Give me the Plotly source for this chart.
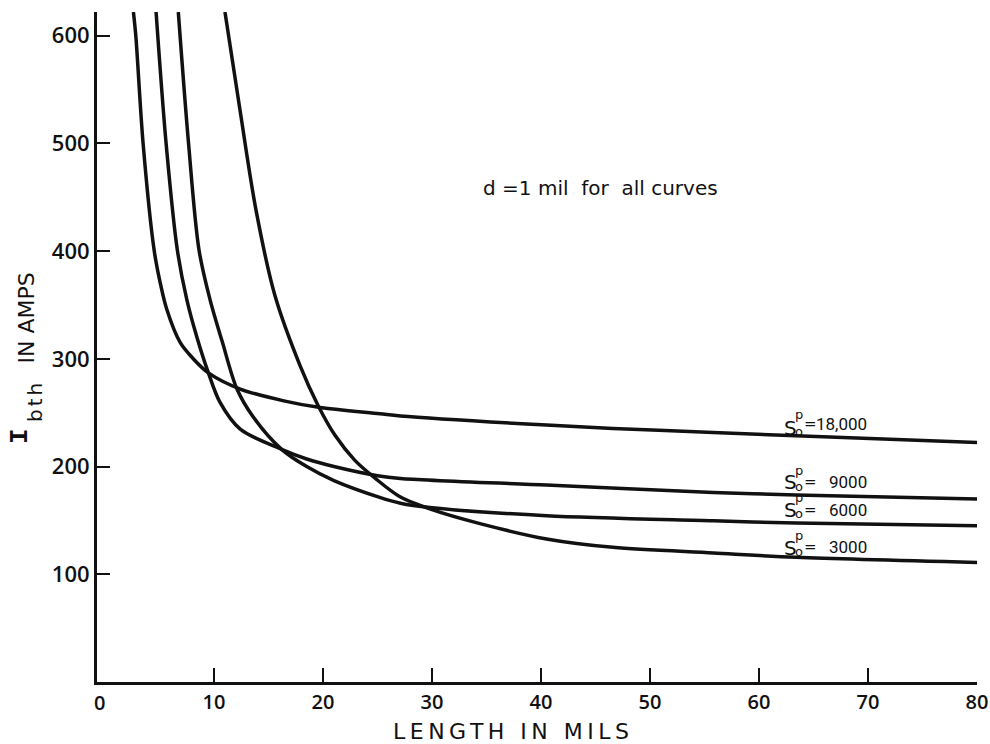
import plotly.graph_objects as go

# ---- data ----
x_18000 = [2.6, 2.82, 3.49, 4.5, 5.05, 5.66, 6.9, 8.1, 9.48, 12.4, 16.4, 19.6, 25.2, 27.1, 40.5, 46.6, 55.8, 63.4, 80]
y_18000 = [622, 600, 500, 401, 371, 346, 315, 300, 287, 272, 261, 255, 249, 247, 238.5, 235.4, 231.7, 228.5, 222.4]

x_9000 = [4.68, 5.6, 6.63, 7.5, 8.4, 9.48, 10.55, 12.4, 16.2, 18.5, 21, 25, 27.1, 40.5, 55.8, 63.4, 80]
y_9000 = [622, 500, 401, 355, 321, 287, 259.5, 234.7, 216, 207, 200, 191.5, 189, 182.8, 176, 173.6, 169.9]

x_6000 = [6.72, 7.66, 8.62, 9.63, 10.75, 12.1, 13.6, 16.2, 18.5, 21, 25.2, 27.1, 29.8, 40.5, 55.8, 63.4, 80]
y_6000 = [622, 500, 401, 355, 316, 272, 246, 216, 200, 187, 171.4, 166, 162, 154.4, 149.7, 147.6, 145.1]

x_3000 = [11.0, 12.38, 13.85, 15.58, 17.88, 19.53, 21.1, 22.9, 24.8, 27.06, 30.0, 34.4, 40.5, 46.6, 55.8, 63.4, 80]
y_3000 = [622, 531, 438, 359, 294, 257, 229, 206, 189, 172, 160, 147, 132.8, 125, 119.8, 115.8, 111]

series_x = [x_18000, x_9000, x_6000, x_3000]
series_y = [y_18000, y_9000, y_6000, y_3000]
series_labels = ["18,000", "9000", "6000", "3000"]

x_ticks = [10, 20, 30, 40, 50, 60, 70, 80]
y_ticks = [100, 200, 300, 400, 500, 600]

# ---- layout helpers (pixel -> paper) ----
L, R, T, B = 97, 977, 12, 682
def PX(px):
    return (px - L) / (R - L)
def PY(py):
    return (B - py) / (B - T)

INK = "#111111"
FONT = "DejaVu Sans"
TICKFONT = "Open Sans"
NUMFONT = "Roboto"

fig = go.Figure()
for xs, ys in zip(series_x, series_y):
    fig.add_trace(go.Scatter(
        x=xs, y=ys, mode="lines",
        line=dict(color=INK, width=3.5, shape="spline", smoothing=0.9),
        showlegend=False, hoverinfo="skip"))

def note(text, px, py, size, xanchor="center", family=FONT, angle=0, weight="normal"):
    return dict(text=text, xref="paper", yref="paper", x=PX(px), y=PY(py),
                xanchor=xanchor, yanchor="middle", showarrow=False, textangle=angle,
                font=dict(family=family, size=size, color=INK, weight=weight))

annotations = []
# curve labels
S_center = [427.5, 482.5, 509.5, 547.5]
num_center = [424, 481.5, 510, 546.5]
for lab, sc, nc in zip(series_labels, S_center, num_center):
    annotations.append(note("S", 782, sc, 20, xanchor="left"))
    annotations.append(note("p", 799, sc - 12.5, 13))
    annotations.append(note("o", 799, sc + 4, 13))
    annotations.append(note("=", 810, nc, 15))
    annotations.append(note(lab, 869, nc, 17, xanchor="right", family=NUMFONT))

annotations.append(note("d =1 mil  for  all curves", 600, 188, 20))
annotations.append(note("<span style='letter-spacing:4.5px'>LENGTH IN MILS</span>", 513, 731, 22))
# y title pieces (rotated)
annotations.append(note("I", 20, 436, 26, family="Liberation Mono", angle=-90, weight="bold"))
annotations.append(note("<span style='letter-spacing:3px'>bth</span>", 35, 401, 20, angle=-90))
annotations.append(note("IN AMPS", 25.5, 318, 22, angle=-90))
annotations.append(note("0", 99.7, 702, 20, family=TICKFONT, weight=600))

fig.update_layout(
    width=990, height=744,
    margin=dict(l=L, r=990 - R, t=T, b=744 - B, autoexpand=False),
    paper_bgcolor="white", plot_bgcolor="white",
    showlegend=False,
    annotations=annotations,
    xaxis=dict(range=[-0.74, 80], tickvals=x_ticks, ticks="inside", ticklen=14, tickwidth=2.2,
               tickcolor=INK, showline=True, linewidth=3, linecolor=INK, showgrid=False,
               zeroline=False, automargin=False,
               tickfont=dict(family=TICKFONT, size=20, color=INK, weight=600), fixedrange=True),
    yaxis=dict(range=[0, 622], tickvals=y_ticks, ticks="inside", ticklen=13, tickwidth=2.2,
               tickcolor=INK, showline=True, linewidth=3, linecolor=INK, showgrid=False,
               zeroline=False, automargin=False,
               tickfont=dict(family=TICKFONT, size=22, color=INK, weight=600), fixedrange=True),
)

fig.write_html("out.html")
